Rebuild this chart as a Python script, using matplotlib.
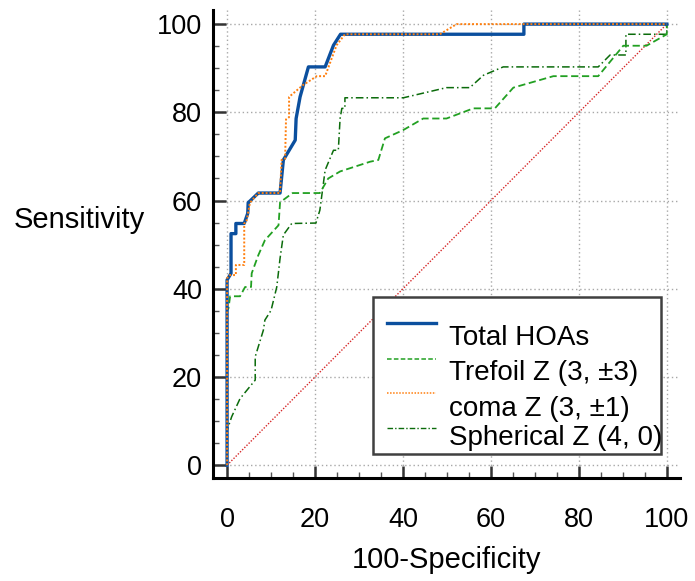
import matplotlib
matplotlib.use("Agg")
import matplotlib.pyplot as plt
from matplotlib.patches import Rectangle
from matplotlib.lines import Line2D
from matplotlib.ticker import MultipleLocator

plt.rcParams['font.family'] = ['Liberation Sans', 'DejaVu Sans']

# ---- data ----
total_x = [0, 0, 0.9, 0.9, 2.0, 2.0, 3.9, 4.7, 4.8, 7.1, 12.05, 12.8, 15.5, 15.7, 16.6, 18.5, 22.3, 24.2, 25.8, 67.5, 67.5, 100]
total_y = [0, 42, 43.5, 52.5, 52.5, 54.8, 54.8, 57.1, 59.5, 61.7, 61.7, 69.2, 73.7, 78.6, 83.5, 90.3, 90.3, 95.2, 97.7, 97.7, 100, 100]

coma_x = [0, 0, 0.6, 2.0, 2.0, 3.9, 3.9, 4.4, 5.2, 7.1, 12.05, 12.4, 13.2, 13.4, 14.1, 14.1, 17.3, 20.4, 22.3, 24.9, 26.8, 48.4, 52.2, 100]
coma_y = [0, 42.4, 43.1, 43.1, 45.4, 45.4, 54.8, 55.2, 59.5, 61.7, 61.7, 69.2, 69.5, 78.4, 78.9, 83.5, 86.2, 88.2, 88.2, 95.2, 97.7, 97.7, 100, 100]

trefoil_x = [0, 0, 0.3, 0.7, 2.95, 4.1, 5.45, 5.6, 7.1, 8.6, 11.7, 12.05, 14.9, 21.1, 23.0, 25.7, 32.5, 34.4, 35.9, 40.1, 44.6, 49.9, 56.0, 60.9, 65.1, 74.2, 84.4, 90.1, 95.4, 100, 100]
trefoil_y = [0, 35.1, 35.5, 38.3, 38.3, 40.4, 40.4, 43.5, 47.6, 51.0, 54.4, 59.6, 61.7, 61.7, 65.0, 66.6, 68.8, 69.2, 74.1, 76.0, 78.6, 78.6, 80.9, 80.9, 85.6, 88.2, 88.2, 95.1, 95.1, 97.7, 100]

spher_x = [0, 0, 1.05, 2.95, 6.4, 6.4, 8.25, 8.6, 10.0, 11.3, 12.05, 12.8, 14.7, 20.2, 21.1, 22.3, 24.2, 25.3, 25.7, 26.1, 26.8, 26.8, 40.1, 49.9, 55.2, 58.3, 62.8, 84.4, 87.1, 90.7, 90.7, 100, 100]
spher_y = [0, 7.9, 11.0, 15.1, 19.3, 24.6, 30.6, 32.9, 35.1, 40.4, 46.9, 52.2, 54.8, 54.9, 57.8, 66.9, 71.4, 71.4, 78.6, 80.9, 80.9, 83.3, 83.3, 85.6, 85.6, 88.4, 90.3, 90.3, 93.0, 93.0, 97.7, 97.7, 100]

ref_x = [0, 100]
ref_y = [0, 100]

tick_vals = [0, 20, 40, 60, 80, 100]
labels = ["Total HOAs", "Trefoil Z (3, \u00b13)", "coma Z (3, \u00b11)", "Spherical Z (4, 0)"]

# ---- styles ----
c_total = '#0b4f9e'
c_tref = '#22a022'
c_coma = '#ff7f0e'
c_sph = '#0b6b0b'
c_ref = '#d62728'

fig = plt.figure(figsize=(6.95, 5.81), dpi=100)
ax = fig.add_axes([213/695, 1-478/581, 467/695, 468/581])

ax.set_xlim(-3.2, 103)
ax.set_ylim(-2.9, 103.2)

ax.plot(ref_x, ref_y, color=c_ref, lw=1.0, ls=(0, (1, 1.2)), zorder=2)
ax.plot(spher_x, spher_y, color=c_sph, lw=1.1, ls=(0, (5, 2, 1, 2)), zorder=3)
ax.plot(trefoil_x, trefoil_y, color=c_tref, lw=1.3, ls=(0, (4, 2)), zorder=3)
ax.plot(total_x, total_y, color=c_total, lw=2.4, zorder=4)
ax.plot(coma_x, coma_y, color=c_coma, lw=1.4, ls=(0, (1, 1)), zorder=5)

ax.set_xticks(tick_vals)
ax.set_yticks(tick_vals)
ax.xaxis.set_minor_locator(MultipleLocator(5))
ax.yaxis.set_minor_locator(MultipleLocator(5))
ax.grid(True, which='major', color='#a8a8a8', ls=(0, (1, 2)), lw=1.0, zorder=0)

for s in ['top', 'right']:
    ax.spines[s].set_visible(False)
for s in ['left', 'bottom']:
    ax.spines[s].set_linewidth(2.2)
    ax.spines[s].set_color('black')

ax.tick_params(which='major', direction='in', length=9, width=1.8, color='#333333',
               labelsize=19.5, pad=8)
ax.tick_params(axis='x', which='major', pad=21)
ax.tick_params(which='minor', direction='in', length=4.5, width=1.0, color='#555555')

ax.set_xlabel("100-Specificity", fontsize=21, labelpad=9)
fig.text(79/695, 1-220/581, "Sensitivity", fontsize=21, ha='center', va='center')

# ---- legend box drawn in axes coordinates ----
ax.add_patch(Rectangle((0.3426, 0.0513), 0.9593-0.3426, 0.3868-0.0513, transform=ax.transAxes,
                       facecolor='white', edgecolor='#404040', lw=1.8, zorder=10))
h_y = [0.3312, 0.2543, 0.1816, 0.1068]
t_y = [0.2990, 0.2245, 0.1480, 0.0860]
styles = [dict(color=c_total, lw=2.4, ls='-'),
          dict(color=c_tref, lw=1.1, ls=(0, (3, 1.5))),
          dict(color=c_coma, lw=1.1, ls=(0, (1, 1))),
          dict(color=c_sph, lw=1.0, ls=(0, (4, 1.5, 1, 1.5)))]
for hy, ty, lab, st in zip(h_y, t_y, labels, styles):
    ax.add_line(Line2D([0.3726, 0.4775], [hy, hy], transform=ax.transAxes, zorder=11, **st))
    ax.text(0.5054, ty, lab, transform=ax.transAxes, fontsize=20, ha='left', va='center', zorder=12)

fig.savefig("out.png", dpi=100)
